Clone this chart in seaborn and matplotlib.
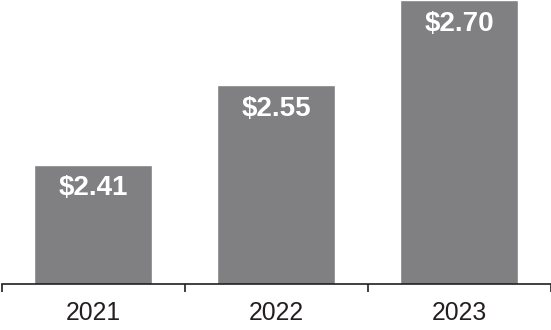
import matplotlib
matplotlib.use("Agg")
import matplotlib.pyplot as plt
import seaborn as sns
import pandas as pd
from matplotlib.ticker import FixedLocator

years = ["2021", "2022", "2023"]
values = [2.41, 2.55, 2.70]
labels = ["$2.41", "$2.55", "$2.70"]

sns.set_style("white")
plt.rcParams['font.family'] = ['Liberation Sans', 'DejaVu Sans']

df = pd.DataFrame({"year": years, "value": values})

fig = plt.figure(figsize=(5.51, 3.30), dpi=100)
ax = fig.add_axes([1.5/551, 46/330, 549/551, 284/330])
sns.barplot(data=df, x="year", y="value", color="#808083", width=0.645,
            saturation=1, ax=ax)
ax.set_ylim(2.2, 2.70)
ax.set_xlim(-0.5, 2.5)
ax.set_xlabel("")
ax.set_ylabel("")
ax.set_yticks([])
for s in ["top", "right", "left"]:
    ax.spines[s].set_visible(False)
ax.spines["bottom"].set_color("#231f20")
ax.spines["bottom"].set_linewidth(1.2)
ax.tick_params(axis="x", which="major", bottom=False, length=0, labelsize=17.8,
               colors="#231f20", pad=12)
ax.xaxis.set_minor_locator(FixedLocator([-0.5, 0.5, 1.5, 2.5]))
ax.tick_params(axis="x", which="minor", bottom=True, length=6, width=1.2,
               color="#231f20", direction="out")

for i, (v, lab) in enumerate(zip(values, labels)):
    ax.annotate(lab.replace("$", r"\$"), xy=(i, v), xytext=(0, -17), textcoords="offset points",
                ha="center", va="center", color="white", fontsize=20, fontweight="bold")

fig.savefig("out.png", dpi=100)
